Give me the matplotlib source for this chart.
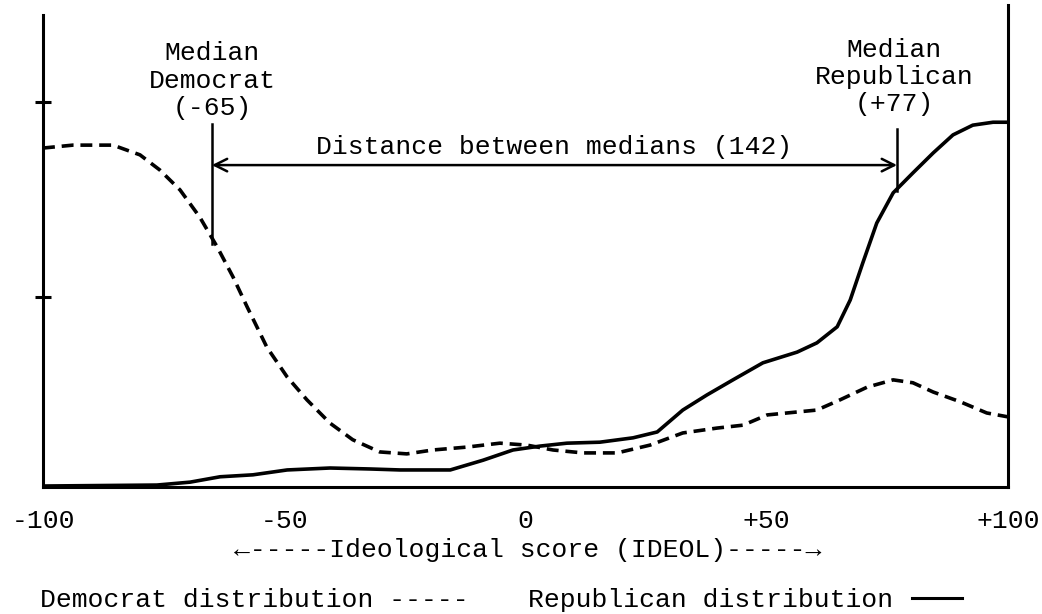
import matplotlib
matplotlib.use("Agg")
import matplotlib.pyplot as plt
from matplotlib.lines import Line2D

plt.rcParams["font.family"] = ["Liberation Mono", "DejaVu Sans Mono"]

# values (x = IDEOL score, y = relative density)
dem_x = [-100, -93.8, -85.5, -79.9, -75.8, -71.6, -67.5, -63.9, -60.6, -57.7,
         -53.6, -49.4, -45.3, -40.5, -35.8, -30.2, -24.6, -19.2, -12.1, -5.3,
         0.3, 5.7, 11.9, 19.0, 25.8, 32.6, 39.7, 45.1, 50.1, 54.2,
         60.4, 65.2, 70.8, 76.2, 80.3, 84.5, 90.1, 95.6, 100]
dem_y = [69.6, 70.2, 70.2, 68.2, 65.1, 61.0, 55.4, 49.3, 43.1, 37.0,
         28.7, 22.6, 17.9, 13.1, 9.7, 7.2, 6.8, 7.6, 8.2, 9.0,
         8.6, 7.6, 7.0, 7.0, 8.6, 11.1, 12.1, 12.7, 14.8, 15.2,
         15.8, 17.9, 20.5, 22.0, 21.4, 19.5, 17.5, 15.2, 14.4]

rep_x = [-100, -76.4, -69.5, -63.3, -56.5, -49.4, -40.5, -32.2, -26.0, -15.6,
         -8.8, -2.6, 3.0, 8.6, 15.4, 22.3, 27.3, 32.6, 37.6, 43.0,
         49.2, 56.3, 60.4, 64.6, 67.3, 69.9, 72.8, 76.2, 80.3, 84.5,
         88.6, 92.7, 96.9, 100]
rep_y = [0.2, 0.4, 1.0, 2.1, 2.5, 3.5, 3.9, 3.7, 3.5, 3.5,
         5.5, 7.6, 8.4, 9.0, 9.2, 10.1, 11.3, 15.8, 18.9, 22.0,
         25.5, 27.7, 29.6, 32.9, 38.4, 46.0, 54.2, 60.4, 64.5, 68.6,
         72.3, 74.3, 74.9, 74.9]

median_dem = -65
median_rep = 77
xtick_vals = [-100, -50, 0, 50, 100]
xtick_labels = ["-100", "-50", "0", "+50", "+100"]
ytick_vals = [39, 79]

FS = 19
INK = "black"

fig = plt.figure(figsize=(10.42, 6.14), dpi=100)
ax = fig.add_axes([43 / 1042, 1 - 487 / 614, 965 / 1042, 487 / 614])
ax.set_xlim(-100, 100)
ax.set_ylim(0, 100)

ax.plot(dem_x, dem_y, color=INK, lw=2.6, dashes=(3.3, 1.9), solid_capstyle="butt")
ax.plot(rep_x, rep_y, color=INK, lw=2.6)

# median markers
ax.plot([median_dem, median_dem], [50, 74.5], color=INK, lw=1.8)
ax.plot([median_rep, median_rep], [60.8, 73.5], color=INK, lw=1.8)
ax.annotate("", xy=(median_dem, 66.1), xytext=(median_rep, 66.1),
            arrowprops=dict(arrowstyle="<->,head_length=0.9,head_width=0.45",
                            color=INK, lw=1.8, shrinkA=0, shrinkB=0))
ax.text((median_dem + median_rep) / 2, 69.8,
        "Distance between medians (%d)" % (median_rep - median_dem),
        ha="center", va="center", fontsize=FS)
ax.text(-64.9, 83.4, "Median\nDemocrat\n(-65)", ha="center", va="center",
        fontsize=FS, linespacing=1.18, multialignment="center")
ax.text(76.4, 84.2, "Median\nRepublican\n(+77)", ha="center", va="center",
        fontsize=FS, linespacing=1.18, multialignment="center")

# axes frame like the hand-drawn original
ax.spines["top"].set_visible(False)
for s in ["left", "right", "bottom"]:
    ax.spines[s].set_linewidth(2.2)
ax.spines["left"].set_bounds(0, 97)
ax.spines["right"].set_bounds(0, 99)

ax.set_xticks(xtick_vals)
ax.set_xticklabels(xtick_labels, fontsize=FS)
ax.tick_params(axis="x", which="major", length=0, pad=16)
ax.set_xticks([-50, 0, 50], minor=True)
ax.tick_params(axis="x", which="minor", direction="inout", length=11, width=2.2)
ax.set_yticks(ytick_vals)
ax.set_yticklabels([])
ax.tick_params(axis="y", which="major", direction="inout", length=11, width=2.2)
ax.tick_params(axis="y", right=False)

fig.text(528 / 1042, 1 - 550 / 614, "\u2190-----Ideological score (IDEOL)-----\u2192",
         ha="center", va="center", fontsize=FS)
fig.text(40 / 1042, 1 - 600 / 614, "Democrat distribution -----",
         ha="left", va="center", fontsize=FS)
fig.text(528 / 1042, 1 - 600 / 614, "Republican distribution",
         ha="left", va="center", fontsize=FS)
fig.add_artist(Line2D([912 / 1042, 962 / 1042], [1 - 598 / 614, 1 - 598 / 614],
                      color=INK, lw=2.2, transform=fig.transFigure))

fig.savefig("out.png", dpi=100)
